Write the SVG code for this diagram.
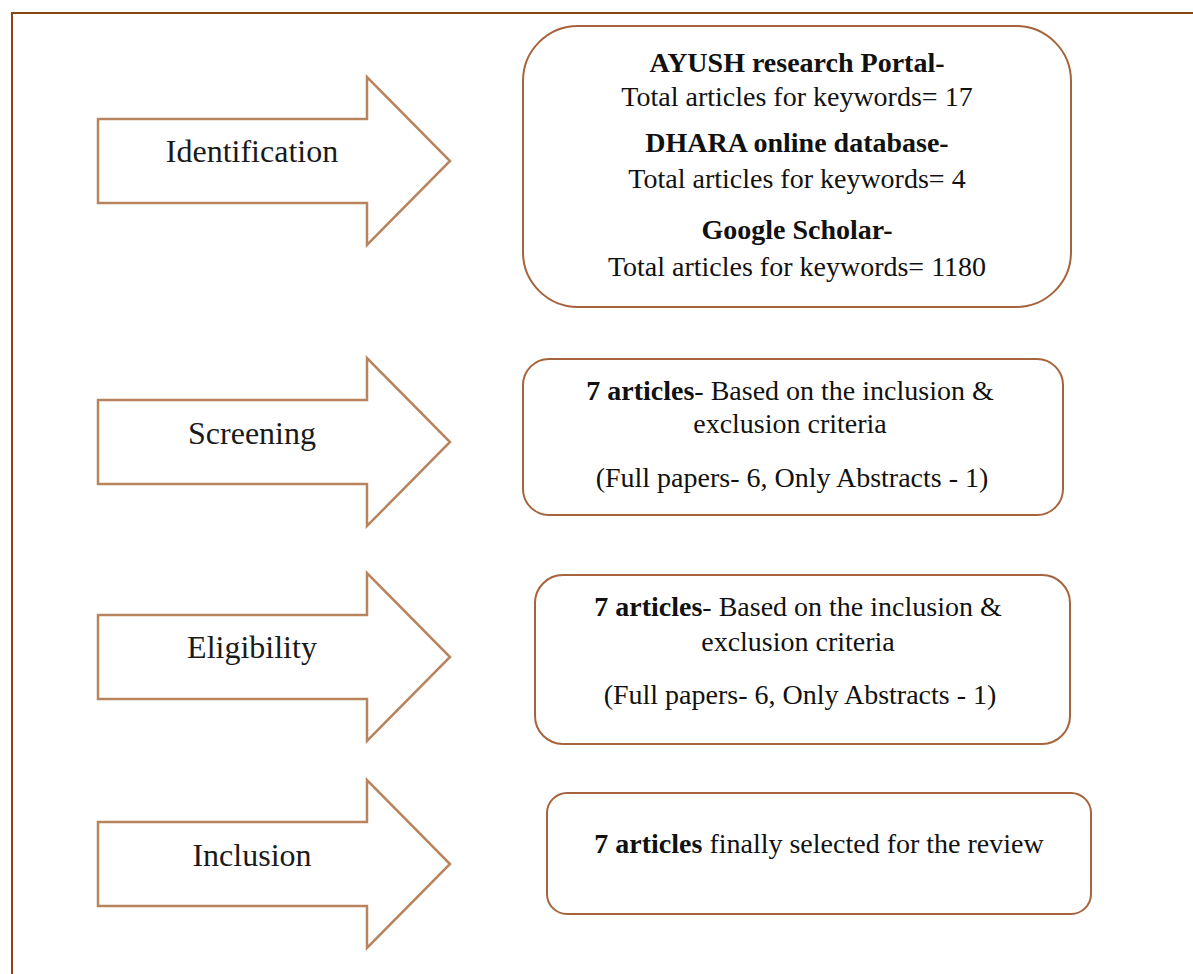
<svg xmlns="http://www.w3.org/2000/svg" width="1193" height="974" viewBox="0 0 1193 974">
<style>
.frame{fill:none;stroke:#8b4513;stroke-width:2}
.arrow{fill:#fff;stroke:#b8845e;stroke-width:2.5;stroke-linejoin:miter}
.box{fill:#fff;stroke:#a5643c;stroke-width:2}
.lbl{font-family:"Liberation Serif","Times New Roman",serif;font-size:32px;fill:#1a1a1a;text-anchor:middle}
.t{font-family:"Liberation Serif","Times New Roman",serif;font-size:28px;fill:#111;text-anchor:middle}
.b{font-weight:bold}
</style>
<rect width="1193" height="974" fill="#fff"/>
<g id="frame">
<path class="frame" d="M12,974 V13 H1193"/>
</g>
<g id="connectors"></g>
<g id="identification">
<path class="arrow" d="M98,119 H367 V77 L450,161 L367,245 V203 H98 Z"/>
<text class="lbl" x="252" y="162">Identification</text>
</g>
<g id="screening">
<path class="arrow" d="M98,400 H367 V358 L450,442 L367,526 V484 H98 Z"/>
<text class="lbl" x="252" y="444">Screening</text>
</g>
<g id="eligibility">
<path class="arrow" d="M98,615 H367 V573 L450,657 L367,741 V699 H98 Z"/>
<text class="lbl" x="252" y="658">Eligibility</text>
</g>
<g id="inclusion">
<path class="arrow" d="M98,822 H367 V780 L450,864 L367,948 V906 H98 Z"/>
<text class="lbl" x="252" y="866">Inclusion</text>
</g>
<g id="sources">
<rect class="box" x="523" y="26" width="548" height="281" rx="55" ry="55"/>
<text class="t b" x="797" y="72">AYUSH research Portal-</text>
<text class="t" x="797" y="106">Total articles for keywords= 17</text>
<text class="t b" x="797" y="152">DHARA online database-</text>
<text class="t" x="797" y="188">Total articles for keywords= 4</text>
<text class="t b" x="797" y="239">Google Scholar-</text>
<text class="t" x="797" y="276">Total articles for keywords= 1180</text>
</g>
<g id="screen-box">
<rect class="box" x="523" y="359" width="540" height="156" rx="26" ry="26"/>
<text class="t" x="790" y="400"><tspan class="b">7 articles</tspan>- Based on the inclusion &amp;</text>
<text class="t" x="790" y="433">exclusion criteria</text>
<text class="t" x="792" y="487">(Full papers- 6, Only Abstracts - 1)</text>
</g>
<g id="elig-box">
<rect class="box" x="535" y="575" width="535" height="169" rx="28" ry="28"/>
<text class="t" x="798" y="616"><tspan class="b">7 articles</tspan>- Based on the inclusion &amp;</text>
<text class="t" x="798" y="651">exclusion criteria</text>
<text class="t" x="800" y="704">(Full papers- 6, Only Abstracts - 1)</text>
</g>
<g id="incl-box">
<rect class="box" x="547" y="793" width="544" height="121" rx="20" ry="20"/>
<text class="t" x="819" y="853"><tspan class="b">7 articles</tspan> finally selected for the review</text>
</g>
</svg>
